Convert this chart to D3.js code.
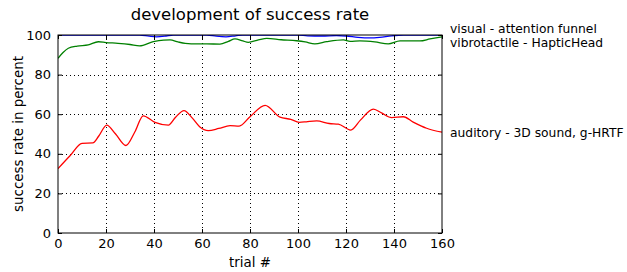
<!DOCTYPE html>
<html><head><meta charset="utf-8">
<script src="https://cdn.jsdelivr.net/npm/d3@7"></script>
<style>body{margin:0;background:#fff}svg{display:block}text{font-family:"DejaVu Sans",sans-serif}</style>
</head><body><svg id="c" width="627" height="272"></svg>
<script>
const xTicks = [0,20,40,60,80,100,120,140,160];
const yTicks = [0,20,40,60,80,100];
const seriesNames = ["visual - attention funnel","vibrotactile - HapticHead","auditory - 3D sound, g-HRTF"];
const visualTrials = [0,34,38,41,45,48,62,66,70,74,77,100,104,110,116,120,125,130,134,139,144,160];
const visualValues = [100,100,99.4,99.1,99.5,100,100,99.4,99.1,99.6,100,100,99.6,99.5,99.7,99.5,98.8,98.5,98.8,99.6,100,100];
const vibroTrials = [0,2,4.3,8,12.6,16.8,20,25,30,34,39.7,44,46.7,50,53,58,62,67.5,71,73.75,77,79.3,83.5,87,93,99.4,103,107,112,118.9,121.7,125.8,132,137.6,142.5,150.8,155,160];
const vibroValues = [88.2,91,93.3,94.4,95.0,96.6,96.2,95.8,95.2,94.5,96.6,97.4,97.5,96.5,95.8,95.5,95.5,95.4,96.8,98.0,97.0,96.3,97.5,98.3,97.6,97.1,96.5,95.5,96.6,97.5,96.8,97.0,96.5,95.5,97.0,97.0,98,99.1];
const audioTrials = [0,5,10,14.5,17,20.3,24,28.3,32,35.5,40.4,46,49,52.5,56,59,62.6,67,71.7,75.5,80,86.3,92.5,97,100.5,104,107.8,113,116.8,122,126,131.4,135,139,143.9,148,153.6,160];
const audioValues = [32.5,39,45.3,45.5,49,54.5,50,44.2,51,59.2,55.9,54.5,58.5,61.8,58,53.7,51.7,52.8,54.2,54,58.7,64.5,58.5,57.4,55.9,56.3,56.6,55.3,55.0,52.0,57,62.6,60.5,58.3,58.7,56,52.9,50.9];
const colors = ["#0000ff","#008000","#ff0000"];

const L=58,R=442,T=35,B=233;
const svg=d3.select("#c");
svg.append("rect").attr("width",627).attr("height",272).attr("fill","#fff");
const x=d3.scaleLinear().domain([0,160]).range([L,R]);
const y=d3.scaleLinear().domain([0,100]).range([B,T]);

// grid
const g=svg.append("g");
g.selectAll(".gx").data(xTicks.slice(1,-1)).enter().append("line")
 .attr("x1",d=>x(d)+0.5).attr("x2",d=>x(d)+0.5).attr("y1",T).attr("y2",B)
 .attr("stroke","#000").attr("stroke-width",1).attr("stroke-dasharray","1,3");
g.selectAll(".gy").data(yTicks.slice(1,-1)).enter().append("line")
 .attr("y1",d=>Math.round(y(d))+0.5).attr("y2",d=>Math.round(y(d))+0.5).attr("x1",L).attr("x2",R)
 .attr("stroke","#000").attr("stroke-width",1).attr("stroke-dasharray","1,3");

svg.append("clipPath").attr("id","clip").append("rect").attr("x",L).attr("y",T).attr("width",R-L).attr("height",B-T);
const series=[[visualTrials,visualValues],[vibroTrials,vibroValues],[audioTrials,audioValues]];
const line=d3.line().x(d=>x(d[0])).y(d=>y(d[1])).curve(d3.curveMonotoneX);
series.forEach((s,i)=>{
  const pts=s[0].map((t,j)=>[t,s[1][j]]);
  svg.append("path").datum(pts).attr("d",line).attr("fill","none")
   .attr("stroke",colors[i]).attr("stroke-width",1.3).attr("clip-path","url(#clip)");
});

// axes
const fs="13px";
const ab=svg.append("g").attr("transform",`translate(0,${B})`).call(d3.axisBottom(x).tickValues(xTicks).tickSize(-4).tickPadding(5.5));
const at=svg.append("g").attr("transform",`translate(0,${T})`).call(d3.axisTop(x).tickValues(xTicks).tickSize(-4).tickFormat(""));
const al=svg.append("g").attr("transform",`translate(${L},0)`).call(d3.axisLeft(y).tickValues(yTicks).tickSize(-4).tickPadding(7));
const ar=svg.append("g").attr("transform",`translate(${R},0)`).call(d3.axisRight(y).tickValues(yTicks).tickSize(-4).tickFormat(""));
[ab,at,al,ar].forEach(a=>{
  a.select(".domain").remove();
  a.selectAll("line").attr("stroke","#000").attr("stroke-width",1);
  a.selectAll("text").attr("font-size",fs).attr("fill","#000").style("font-family","DejaVu Sans");
});
svg.append("rect").attr("x",L).attr("y",T).attr("width",R-L).attr("height",B-T)
 .attr("fill","none").attr("stroke","#000").attr("stroke-width",1);

// texts
svg.append("text").attr("x",(L+R)/2).attr("y",20).attr("text-anchor","middle").attr("font-size","16.5px").text("development of success rate");
svg.append("text").attr("x",(L+R)/2).attr("y",267).attr("text-anchor","middle").attr("font-size","13.4px").text("trial #");
svg.append("text").attr("transform","translate(22.5,134) rotate(-90)").attr("text-anchor","middle").attr("font-size","13.4px").text("success rate in percent");
const labelY=[33,47,137];
seriesNames.forEach((n,i)=>{
  svg.append("text").attr("x",450).attr("y",labelY[i]).attr("font-size","12.3px").attr("fill","#000").text(n);
});
</script></body></html>
